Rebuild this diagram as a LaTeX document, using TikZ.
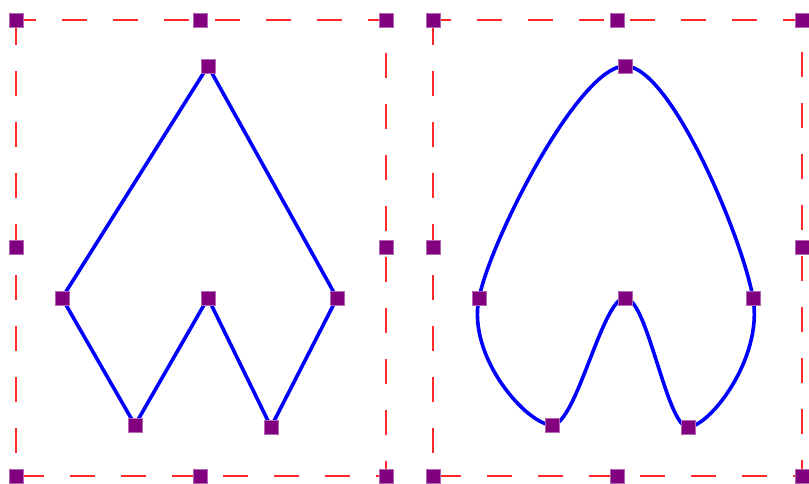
\documentclass[tikz,border=0pt]{standalone}
\usepackage{tikz}

\definecolor{handle}{RGB}{128,0,128}
\definecolor{frame}{RGB}{255,40,40}

\begin{document}
\begin{tikzpicture}[
  x=1pt, y=-1pt,
  box/.style={draw=frame, line width=1.8pt, dash pattern=on 25pt off 26pt},
  outline/.style={draw=blue, line width=3.6pt, line join=round},
  knot/.style={fill=handle, draw=handle!60, line width=0.4pt, inner sep=0pt, minimum size=14pt}
]
\useasboundingbox (0,0) rectangle (809,483);
% left panel: straight polygon
\coordinate (ltop) at (208,66);
\coordinate (lright) at (337,298);
\coordinate (lfootr) at (271,427);
\coordinate (lnotch) at (208,298);
\coordinate (lfootl) at (135,425);
\coordinate (lleft) at (62,298);
% right panel: smoothed outline
\coordinate (rtop) at (625,66);
\coordinate (rright) at (753,298);
\coordinate (rfootr) at (688,427);
\coordinate (rnotch) at (625,298);
\coordinate (rfootl) at (552,425);
\coordinate (rleft) at (479,298);

\draw[box] (16,20) rectangle (386,476);
\draw[box] (433,20) rectangle (802,476);

\draw[outline] (ltop) -- (lright) -- (lfootr) -- (lnotch) -- (lfootl) -- (lleft) -- cycle;
\draw[outline] plot[smooth cycle, tension=0.6] coordinates {(rtop) (rright) (rfootr) (rnotch) (rfootl) (rleft)};

% frame handles
\node[knot] (lnw) at (16,20) {};
\node[knot] (ln) at (200,20) {};
\node[knot] (lne) at (386,20) {};
\node[knot] (lw) at (16,247) {};
\node[knot] (le) at (386,247) {};
\node[knot] (lsw) at (16,476) {};
\node[knot] (ls) at (200,476) {};
\node[knot] (lse) at (386,476) {};
\node[knot] (rnw) at (433,20) {};
\node[knot] (rn) at (617,20) {};
\node[knot] (rne) at (802,20) {};
\node[knot] (rw) at (433,247) {};
\node[knot] (re) at (802,247) {};
\node[knot] (rsw) at (433,476) {};
\node[knot] (rs) at (617,476) {};
\node[knot] (rse) at (802,476) {};
% shape handles
\node[knot] at (ltop) {};
\node[knot] at (lright) {};
\node[knot] at (lfootr) {};
\node[knot] at (lnotch) {};
\node[knot] at (lfootl) {};
\node[knot] at (lleft) {};
\node[knot] at (rtop) {};
\node[knot] at (rright) {};
\node[knot] at (rfootr) {};
\node[knot] at (rnotch) {};
\node[knot] at (rfootl) {};
\node[knot] at (rleft) {};
\end{tikzpicture}
\end{document}
